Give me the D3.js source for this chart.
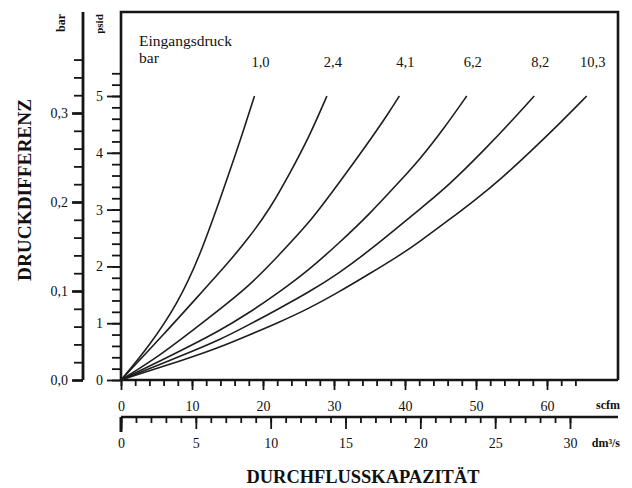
<!DOCTYPE html>
<html>
<head>
<meta charset="utf-8">
<script src="https://cdn.jsdelivr.net/npm/d3@7"></script>
<style>
  body { margin: 0; background: #fff; }
  text { font-family: "Liberation Serif", "Times New Roman", serif; fill: #111; }
</style>
</head>
<body>
<svg width="632" height="488"></svg>
<script>
// inlet pressure (bar) for each curve
const inletPressures = ["1,0", "2,4", "4,1", "6,2", "8,2", "10,3"];

// curves: [flow scfm, pressure drop psid]
const curve10 = [[0, 0], [4, 0.6], [8, 1.35], [11, 2.15], [14, 3.2], [16.5, 4.1], [18.8, 5.0]];
const curve24 = [[0, 0], [6, 0.8], [11.4, 1.55], [15, 2.05], [18, 2.5], [21, 3.02], [23.7, 3.62], [26.5, 4.28], [29, 5.0]];
const curve41 = [[0, 0], [5.4, 0.42], [11.4, 1.0], [18, 1.64], [22, 2.17], [26.5, 2.76], [30.7, 3.47], [34.5, 4.12], [37.8, 4.72], [39.2, 5.0]];
const curve62 = [[0, 0], [9, 0.55], [13.8, 0.86], [18, 1.18], [22, 1.52], [26.5, 1.94], [30.7, 2.41], [35, 2.92], [39.2, 3.49], [42, 3.87], [45.5, 4.43], [48.7, 5.0]];
const curve82 = [[0, 0], [9, 0.45], [13.8, 0.7], [18, 0.97], [22, 1.24], [26.5, 1.55], [30.7, 1.88], [35, 2.28], [39.2, 2.71], [42, 3.0], [46.2, 3.43], [51.4, 4.08], [54.8, 4.53], [58.2, 5.0]];
const curve103 = [[0, 0], [9, 0.36], [13.8, 0.57], [18, 0.79], [22, 1.0], [26.5, 1.26], [30.7, 1.55], [35, 1.87], [39.2, 2.19], [42, 2.43], [46.2, 2.82], [49.9, 3.17], [53.7, 3.56], [57.5, 4.0], [61.5, 4.48], [65.6, 5.0]];
const curves = [curve10, curve24, curve41, curve62, curve82, curve103];

// tick values
const psidTicks = d3.range(0, 5.41, 0.2);
const psidLabels = [0, 1, 2, 3, 4, 5];
const barTicks = d3.range(0, 0.361, 0.02);
const barLabels = [0, 0.1, 0.2, 0.3];
const scfmTicks = d3.range(0, 64.1, 2);
const scfmLabels = [0, 10, 20, 30, 40, 50, 60];
const dmTicks = d3.range(0, 30.1, 1);
const dmLabels = [0, 5, 10, 15, 20, 25, 30];

const comma = d => String(d).replace(".", ",");

const svg = d3.select("svg");

const x = d3.scaleLinear().domain([0, 70]).range([121, 618]);
const yPsi = d3.scaleLinear().domain([0, 5]).range([380, 96]);
const yBar = d3.scaleLinear().domain([0, 0.3]).range([380, 113]);
const xDm = d3.scaleLinear().domain([0, 30]).range([121, 570]);

function styleAxis(g, fontSize) {
    g.attr("font-family", null).attr("font-size", null);
    g.select(".domain").remove();
    g.selectAll(".tick line").attr("stroke", "#151515").attr("stroke-width", 1.8);
    g.selectAll(".tick text").style("font-size", fontSize + "px");
}

// frame (top + right) and left psid axis line
svg.append("path")
    .attr("d", `M${x(0)},${yPsi(0)} V12 H${x(70)} V${yPsi(0)}`)
    .attr("fill", "none")
    .attr("stroke", "#151515")
    .attr("stroke-width", 2.6);

// psid axis
svg.append("g")
    .attr("transform", `translate(${x(0)},0)`)
    .call(d3.axisLeft(yPsi).tickValues(psidTicks).tickSize(9).tickFormat(""))
    .call(g => styleAxis(g, 14));
svg.append("g")
    .attr("transform", `translate(${x(0)},0)`)
    .call(d3.axisLeft(yPsi).tickValues(psidLabels).tickSize(14).tickPadding(4).tickFormat(d3.format("d")))
    .call(g => styleAxis(g, 14));

// bar axis
const barX = 83;
svg.append("line")
    .attr("x1", barX).attr("x2", barX)
    .attr("y1", 12).attr("y2", yBar(0))
    .attr("stroke", "#151515").attr("stroke-width", 2.8);
svg.append("g")
    .attr("transform", `translate(${barX},0)`)
    .call(d3.axisLeft(yBar).tickValues(barTicks).tickSize(9).tickFormat(""))
    .call(g => styleAxis(g, 14));
svg.append("g")
    .attr("transform", `translate(${barX},0)`)
    .call(d3.axisLeft(yBar).tickValues(barLabels).tickSize(11).tickPadding(4).tickFormat(d => comma(d3.format(".1f")(d))))
    .call(g => styleAxis(g, 14))
    .call(g => g.selectAll(".tick line").attr("stroke-width", 2.6));

// scfm axis
svg.append("line")
    .attr("x1", x(0)).attr("x2", x(70))
    .attr("y1", yPsi(0)).attr("y2", yPsi(0))
    .attr("stroke", "#151515").attr("stroke-width", 2.6);
svg.append("g")
    .attr("transform", `translate(0,${yPsi(0)})`)
    .call(d3.axisBottom(x).tickValues(scfmTicks).tickSize(6).tickFormat(""))
    .call(g => styleAxis(g, 14));
svg.append("g")
    .attr("transform", `translate(0,${yPsi(0)})`)
    .call(d3.axisBottom(x).tickValues(scfmLabels).tickSize(10).tickPadding(11).tickFormat(d3.format("d")))
    .call(g => styleAxis(g, 14));
svg.append("text")
    .attr("x", 620).attr("y", 409)
    .attr("text-anchor", "end")
    .style("font-size", "12px").style("font-weight", "bold")
    .text("scfm");

// dm3/s axis
const dmY = 417;
svg.append("line")
    .attr("x1", xDm(0)).attr("x2", x(70))
    .attr("y1", dmY).attr("y2", dmY)
    .attr("stroke", "#151515").attr("stroke-width", 2.6);
svg.append("line")
    .attr("x1", xDm(0)).attr("x2", xDm(0))
    .attr("y1", dmY).attr("y2", dmY + 15)
    .attr("stroke", "#151515").attr("stroke-width", 3);
svg.append("g")
    .attr("transform", `translate(0,${dmY})`)
    .call(d3.axisBottom(xDm).tickValues(dmTicks).tickSize(6).tickFormat(""))
    .call(g => styleAxis(g, 14));
svg.append("g")
    .attr("transform", `translate(0,${dmY})`)
    .call(d3.axisBottom(xDm).tickValues(dmLabels).tickSize(12).tickPadding(9).tickFormat(d3.format("d")))
    .call(g => styleAxis(g, 14));
svg.append("text")
    .attr("x", 620).attr("y", 447)
    .attr("text-anchor", "end")
    .style("font-size", "12px").style("font-weight", "bold")
    .text("dm³/s");

// curves, smoothed through the read points
const line = d3.line()
    .x(d => x(d[0]))
    .y(d => yPsi(d[1]))
    .curve(d3.curveBasis);

svg.append("g")
    .selectAll("path")
    .data(curves)
    .enter().append("path")
    .attr("d", line)
    .attr("fill", "none")
    .attr("stroke", "#1e1e1e")
    .attr("stroke-width", 1.6);

// legend labels above curve ends
svg.append("g")
    .selectAll("text")
    .data(curves)
    .enter().append("text")
    .attr("x", d => x(d[d.length - 1][0]) + 6)
    .attr("y", 67)
    .attr("text-anchor", "middle")
    .style("font-size", "14.5px")
    .text((d, i) => inletPressures[i]);

svg.append("text")
    .attr("x", 139).attr("y", 46)
    .style("font-size", "15.5px")
    .text("Eingangsdruck");
svg.append("text")
    .attr("x", 139).attr("y", 63)
    .style("font-size", "15.5px")
    .text("bar");

// axis unit labels
svg.append("text")
    .attr("transform", "translate(65,23) rotate(-90)")
    .attr("text-anchor", "middle")
    .style("font-size", "12px").style("font-weight", "bold")
    .text("bar");
svg.append("text")
    .attr("transform", "translate(103,24) rotate(-90)")
    .attr("text-anchor", "middle")
    .style("font-size", "11px").style("font-weight", "bold")
    .text("psid");

// titles
svg.append("text")
    .attr("transform", "translate(31,190) rotate(-90)")
    .attr("text-anchor", "middle")
    .attr("textLength", 182)
    .attr("lengthAdjust", "spacingAndGlyphs")
    .style("font-size", "18px").style("font-weight", "bold")
    .text("DRUCKDIFFERENZ");

svg.append("text")
    .attr("x", 363).attr("y", 483)
    .attr("text-anchor", "middle")
    .attr("textLength", 233)
    .attr("lengthAdjust", "spacingAndGlyphs")
    .style("font-size", "18px").style("font-weight", "bold")
    .text("DURCHFLUSSKAPAZITÄT");
</script>
</body>
</html>
